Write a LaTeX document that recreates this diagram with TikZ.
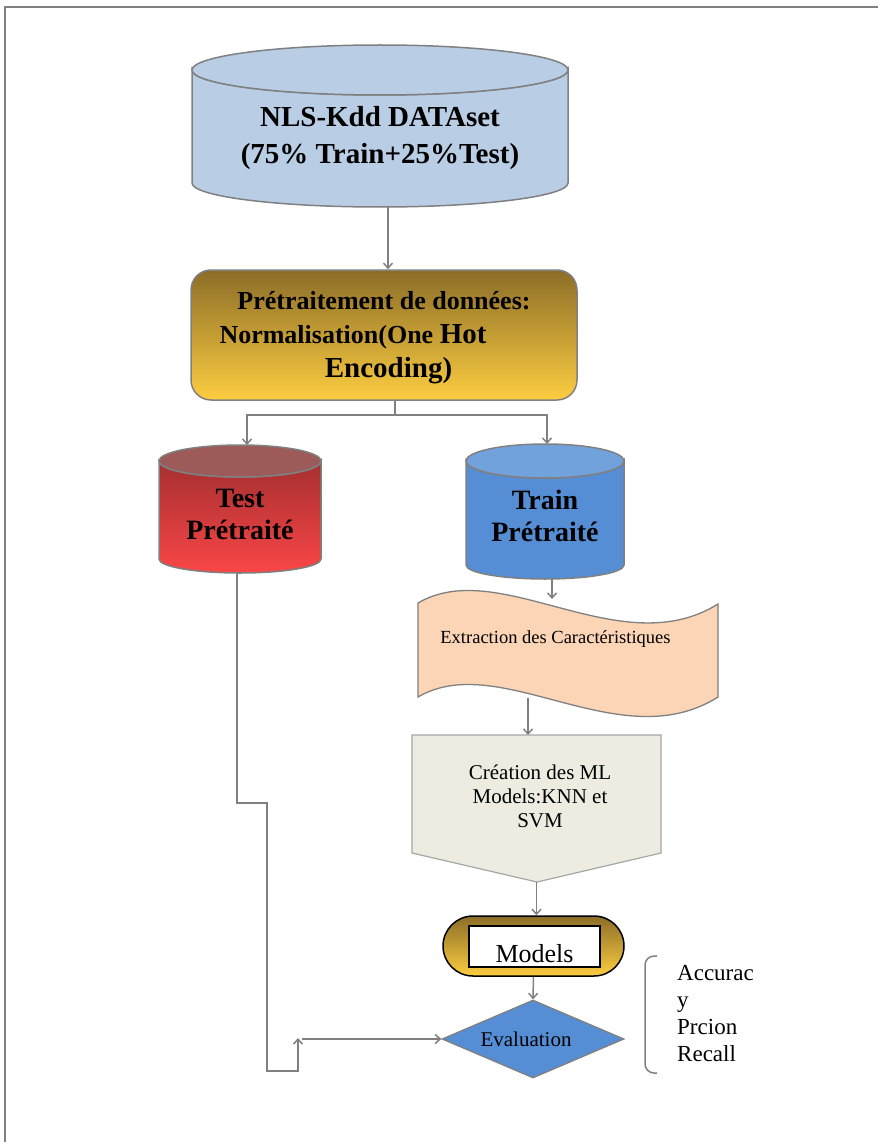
\documentclass[tikz,border=0pt]{standalone}
\usepackage{fontspec}
\setmainfont{Liberation Serif}
\usetikzlibrary{arrows.meta,shapes.geometric}
\definecolor{lineg}{HTML}{808080}
\definecolor{dbblue}{HTML}{B9CDE5}
\definecolor{goldtop}{HTML}{8C6D28}
\definecolor{goldbot}{HTML}{FCCD40}
\definecolor{redtop}{HTML}{A52F30}
\definecolor{redbot}{HTML}{FA4646}
\definecolor{redcap}{HTML}{9C5A58}
\definecolor{bluebody}{HTML}{558ED5}
\definecolor{bluecap}{HTML}{72A2DC}
\definecolor{peach}{HTML}{FBD5B5}
\definecolor{beige}{HTML}{EEECE1}
\definecolor{beigeline}{HTML}{A6A6A6}
\tikzset{
  ln/.style={draw=lineg, line width=1.5pt},
  arr/.style={ln, -{Straight Barb[length=5pt,width=9pt]}},
  cylline/.style={draw=lineg, line width=1.5pt},
  geo/.style={inner sep=0pt, outer sep=0pt, draw=none},
  boldtxt/.style={font=\bfseries, align=center, inner sep=0pt},
}
\begin{document}
\begin{tikzpicture}[x=1pt,y=-1pt]
\useasboundingbox (0,0) rectangle (878,1142);
% frame
\draw[draw=lineg, line width=1.3pt] (5,1142) -- (5,7) -- (878,7);

% ---- top database cylinder
\path[cylline, fill=dbblue] (192,70) -- (192,183) arc[start angle=180,end angle=360,x radius=188pt,y radius=24pt] -- (568,70) arc[start angle=0,end angle=-180,x radius=188pt,y radius=25pt] -- cycle;
\path[cylline, fill=dbblue] (380,70) ellipse[x radius=188pt,y radius=25pt];
\node[geo, minimum width=376pt, minimum height=162pt] (db) at (380,126) {};
\node[boldtxt, font=\bfseries\fontsize{29}{37}\selectfont] (dbtext) at (380,138) {NLS-Kdd DATAset\\(75\% Train+25\%Test)};

% ---- preprocessing box
\node[draw=lineg, line width=1.5pt, rounded corners=20pt, minimum width=386pt, minimum height=130pt, top color=goldtop, bottom color=goldbot, inner sep=0pt] (prep) at (384,335) {};
\node[boldtxt, font=\bfseries\fontsize{26}{34}\selectfont] (preptext) at (384,338) {Prétraitement de données:\\Normalisation(One {\fontsize{29}{34}\selectfont Hot}\hspace*{62pt}\mbox{}\\\hspace*{9pt}{\fontsize{29}{34}\selectfont Encoding)}};

% ---- test cylinder
\path[cylline, top color=redtop, bottom color=redbot] (159,461) -- (159,559) arc[start angle=180,end angle=360,x radius=81pt,y radius=14pt] -- (321,461) arc[start angle=0,end angle=-180,x radius=81pt,y radius=16pt] -- cycle;
\path[cylline, fill=redcap] (240,461) ellipse[x radius=81pt,y radius=16pt];
\node[geo, minimum width=162pt, minimum height=128pt] (test) at (240,509) {};
\node[boldtxt, font=\bfseries\fontsize{28}{32}\selectfont] (testtext) at (240,514.5) {Test\\Prétraité};

% ---- train cylinder
\path[cylline, fill=bluebody] (466,461) -- (466,565) arc[start angle=180,end angle=360,x radius=79pt,y radius=14pt] -- (624,461) arc[start angle=0,end angle=-180,x radius=79pt,y radius=17pt] -- cycle;
\path[cylline, fill=bluecap] (545,461) ellipse[x radius=79pt,y radius=17pt];
\node[geo, minimum width=158pt, minimum height=135pt] (train) at (545,511.5) {};
\node[boldtxt, font=\bfseries\fontsize{28}{32}\selectfont] (traintext) at (545,515.5) {Train\\Prétraité};

% ---- wave (feature extraction)
\path[draw=lineg, line width=1.3pt, fill=peach] (418,603) .. controls (500,555) and (620,665) .. (718,604) -- (718,697) .. controls (620,759) and (500,649) .. (418,697) -- cycle;
\node[inner sep=0pt, anchor=base, font=\fontsize{18.5}{22}\selectfont] (wave) at (555.5,643) {Extraction des Caractéristiques};
\coordinate (wavein) at (552,599);
\coordinate (waveout) at (528,698);

% ---- pentagon (model creation)
\path[draw=beigeline, line width=1.2pt, fill=beige] (412,735) -- (661,735) -- (661,853) -- (537,882) -- (412,853) -- cycle;
\node[geo, minimum width=249pt, minimum height=147pt] (pent) at (536.5,808.5) {};
\node[inner sep=0pt, align=center, font=\fontsize{21}{24}\selectfont] (penttext) at (540,796) {Création des ML\\Models:KNN et\\SVM};

% ---- models
\node[draw=black, line width=1.5pt, rounded corners=30pt, minimum width=181pt, minimum height=60pt, top color=goldtop, bottom color=goldbot, inner sep=0pt] (models) at (533.5,946) {};
\node[draw=black, line width=2pt, fill=white, minimum width=131pt, minimum height=41pt, inner sep=0pt] (modelsbox) at (534.5,946.5) {};
\node[inner sep=0pt, anchor=base, font=\fontsize{26}{30}\selectfont] (modelstext) at (534.5,962) {Models};

% ---- evaluation diamond
\node[diamond, draw=lineg, line width=1.3pt, fill=bluebody, minimum width=182pt, minimum height=78pt, aspect=2.33, inner sep=0pt] (eval) at (533,1039) {};
\node[inner sep=0pt, anchor=base, font=\fontsize{21}{24}\selectfont] (evaltext) at (526,1046) {Evaluation};

% ---- metrics bracket and list
\draw[draw=lineg, line width=1.5pt, rounded corners=9pt] (657,956) -- (645,956) -- (645,1073) -- (657,1073);
\node[inner sep=0pt, anchor=base west, align=left, font=\fontsize{23}{27}\selectfont] (metrics) at (677,1061) {Accurac\\y\\Prcion\\Recall};

% ---- connectors
\draw[arr] ([xshift=8pt]db.south) -- ([xshift=4pt]prep.north);
\draw[ln] ([xshift=11pt]prep.south) -- ++(0,14) coordinate (split);
\draw[arr] (split) -| ([xshift=7pt]test.north);
\draw[arr] (split) -| ([xshift=2pt]train.north);
\draw[arr] ([xshift=7pt]train.south) -- (wavein);
\draw[arr] (waveout) -- (waveout |- pent.north);
\draw[arr] (pent.south) -- (pent.south |- models.north);
\draw[arr] (models.south) -- (eval.north);
\draw[arr] ([xshift=-3pt]test.south) -- ++(0,230) -- ++(30,0) -- ++(0,268) -- ++(31,0) -- ++(0,-33);
\coordinate (evalin) at (302,1039);
\draw[arr] (evalin) -- (eval.west);
\end{tikzpicture}
\end{document}
